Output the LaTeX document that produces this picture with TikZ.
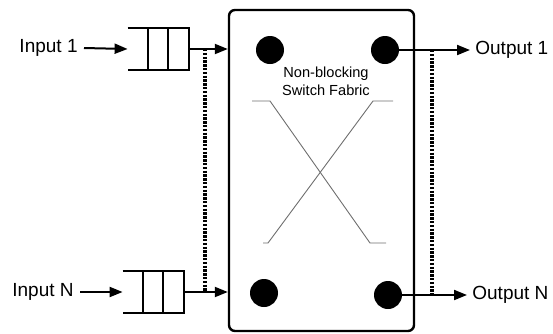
\documentclass[tikz,border=0pt]{standalone}
\usepackage{fontspec}
\setmainfont{Liberation Sans}
\usepackage{tikz}
\usetikzlibrary{arrows.meta,positioning,calc}
\definecolor{ink}{HTML}{000000}
\definecolor{crossgray}{HTML}{6E6E6E}
\tikzset{
  lbl/.style={font=\fontsize{9.5}{11}\selectfont,text=ink,inner sep=3pt},
  fabtext/.style={font=\fontsize{7.3}{9}\selectfont,text=ink,align=center,inner sep=0pt},
  fabric/.style={draw=ink,line width=1.2pt,rounded corners=3pt,minimum width=92.5pt,
    minimum height=160.5pt,inner sep=0pt},
  queue/.style={minimum width=30.5pt,minimum height=20.5pt,inner sep=0pt},
  qline/.style={draw=ink,line width=1pt},
  port/.style={circle,fill=ink,minimum size=14pt,inner sep=0pt},
  arr/.style={-{Triangle[length=6.5pt,width=5pt]},line width=1pt,draw=ink},
  sync/.style={line width=1.6pt,draw=ink,dash pattern=on 1.2pt off 0.7pt},
  xline/.style={draw=crossgray,line width=0.45pt},
}
\begin{document}
\begin{tikzpicture}[x=0.5pt,y=-0.5pt]
  \useasboundingbox (0,0) rectangle (553,333);
  % switch fabric and its ports
  \node[fabric] (sw) at (321.5,170.5) {};
  \node[port] (pi1) at (270,50) {};
  \node[port] (pin) at (264,293) {};
  \node[port] (po1) at (385,50) {};
  \node[port] (pon) at (388,295) {};
  \node[fabtext] (fab) at (326,81) {Non-blocking\\Switch Fabric};
  \draw[xline] (252,101) -- (270,101) -- (370,243) -- (386,243);
  \draw[xline] (393,101) -- (373,101) -- (268,243) -- (263,243);
  % input queues
  \node[queue] (q1) at (158.5,49) {};
  \node[queue] (qN) at (153.5,292) {};
  \foreach \q in {q1,qN}{
    \draw[qline] (\q.north west) -- (\q.north east) -- (\q.south east) -- (\q.south west);
    \foreach \f in {0.33,0.66}
      \draw[qline] ($(\q.north west)!\f!(\q.north east)$) -- ($(\q.south west)!\f!(\q.south east)$);
  }
  \node[lbl,anchor=east] (in1) at (84,48) {Input 1};
  \node[lbl,anchor=east] (inN) at (80,292) {Input N};
  \node[lbl,anchor=west,inner sep=2.5pt] (out1) at (470,50) {Output 1};
  \node[lbl,anchor=west,inner sep=2.5pt] (outN) at (467,295) {Output N};
  \draw[arr] (in1.east) -- (q1.west);
  \draw[arr] (inN.east) -- (qN.west);
  \draw[arr] (q1.east) -- (q1.east -| sw.west);
  \draw[arr] (qN.east) -- (qN.east -| sw.west);
  \draw[arr] (po1.east) -- (out1.west);
  \draw[arr] (pon.east) -- (outN.west);
  % dotted links
  \coordinate (lt) at (205,49);
  \coordinate (lb) at (205,292);
  \coordinate (rt) at (432,50);
  \coordinate (rb) at (432,295);
  \draw[sync] (lt) -- (lb);
  \draw[sync] (rt) -- (rb);
\end{tikzpicture}
\end{document}
